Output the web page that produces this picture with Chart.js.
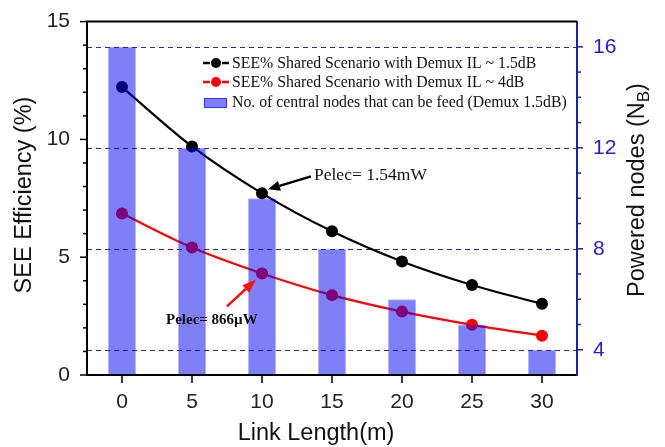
<!DOCTYPE html>
<html><head><meta charset="utf-8">
<script src="https://cdn.jsdelivr.net/npm/chart.js@4"></script>
<style>html,body{margin:0;padding:0;background:#fff;}#wrap{width:665px;height:447px;}</style>
</head><body><div id="wrap"><canvas id="c" width="665" height="447"></canvas></div>
<script>
// ---- data ----
const linkLength = ['0', '5', '10', '15', '20', '25', '30'];
const seeDemux15 = [12.22, 9.70, 7.71, 6.10, 4.82, 3.82, 3.02];
const seeDemux4 = [6.85, 5.41, 4.31, 3.39, 2.69, 2.13, 1.67];
const poweredNodes = [16, 12, 10, 8, 6, 5, 4];
const leftTicks = [0, 5, 10, 15];
const rightTicks = [4, 8, 12, 16];
const xTitle = 'Link Length(m)';
const yTitle = 'SEE Efficiency (%)';
const y1Title = 'Powered nodes (N';
const y1Sub = 'B';
const y1TitleEnd = ')';
const legendLabels = [
  'SEE% Shared Scenario with Demux IL ~ 1.5dB',
  'SEE% Shared Scenario with Demux IL ~ 4dB',
  'No. of central nodes that can be feed (Demux 1.5dB)'
];
const note15 = 'Pelec= 1.54mW';
const note4 = 'Pelec= 866\u00b5W';

const SANS = "'Liberation Sans', Arial, sans-serif";
const SERIF = "'Liberation Serif', 'Times New Roman', serif";
const BAR_FILL = 'rgba(0,0,240,0.5)';
const AXIS_BLUE = '#1e1ea6';
const LABEL_BLUE = '#2222cc';

function arrow(ctx, x0, y0, x1, y1, color, lw, hl, hw) {
  const ang = Math.atan2(y1 - y0, x1 - x0);
  const bx = x1 - hl * Math.cos(ang), by = y1 - hl * Math.sin(ang);
  ctx.save();
  ctx.strokeStyle = color; ctx.fillStyle = color; ctx.lineWidth = lw;
  ctx.beginPath(); ctx.moveTo(x0, y0); ctx.lineTo(bx, by); ctx.stroke();
  ctx.beginPath();
  ctx.moveTo(x1, y1);
  ctx.lineTo(bx + hw / 2 * Math.sin(ang), by - hw / 2 * Math.cos(ang));
  ctx.lineTo(bx - hw / 2 * Math.sin(ang), by + hw / 2 * Math.cos(ang));
  ctx.closePath(); ctx.fill();
  ctx.restore();
}

const decor = {
  id: 'decor',
  beforeDatasetsDraw(chart) {
    const { ctx, chartArea: a, scales } = chart;
    const y1 = scales.y1;
    ctx.save();
    ctx.strokeStyle = '#2a2aa0'; ctx.lineWidth = 1.2; ctx.setLineDash([5, 4]);
    rightTicks.forEach(v => {
      const py = Math.round(y1.getPixelForValue(v)) + 0.5;
      ctx.beginPath(); ctx.moveTo(a.left, py); ctx.lineTo(a.right, py); ctx.stroke();
    });
    ctx.restore();
  },
  afterDraw(chart) {
    const { ctx, chartArea: a, scales } = chart;
    const { x, y, y1 } = scales;
    ctx.save();
    // top frame
    ctx.strokeStyle = '#000'; ctx.lineWidth = 2;
    ctx.beginPath(); ctx.moveTo(a.left - 1, a.top); ctx.lineTo(a.right, a.top); ctx.stroke();
    // left ticks
    ctx.lineWidth = 1.5;
    for (let v = 0; v <= 15; v++) {
      const py = y.getPixelForValue(v);
      const len = v % 5 === 0 ? 7 : 4;
      ctx.beginPath(); ctx.moveTo(a.left, py); ctx.lineTo(a.left - len, py); ctx.stroke();
    }
    // x ticks
    linkLength.forEach((l, i) => {
      const px = x.getPixelForValue(i);
      ctx.beginPath(); ctx.moveTo(px, a.bottom); ctx.lineTo(px, a.bottom + 8); ctx.stroke();
    });
    // right ticks
    ctx.strokeStyle = AXIS_BLUE;
    for (let v = 4; v <= 16; v++) {
      const py = y1.getPixelForValue(v);
      const len = v % 4 === 0 ? 6 : 4;
      ctx.beginPath(); ctx.moveTo(a.right, py); ctx.lineTo(a.right + len, py); ctx.stroke();
    }
    // axis titles
    ctx.fillStyle = '#111';
    ctx.font = '23.5px ' + SANS;
    ctx.textAlign = 'center'; ctx.textBaseline = 'alphabetic';
    ctx.fillText(xTitle, 316, 440);
    ctx.save();
    ctx.translate(31, 195); ctx.rotate(-Math.PI / 2);
    ctx.fillText(yTitle, 0, 0);
    ctx.restore();
    ctx.save();
    ctx.translate(644, 190); ctx.rotate(-Math.PI / 2);
    ctx.textAlign = 'left';
    const f1 = '23.5px ' + SANS, f2 = '17px ' + SANS;
    ctx.font = f1; const w1 = ctx.measureText(y1Title).width; const w3 = ctx.measureText(y1TitleEnd).width;
    ctx.font = f2; const w2 = ctx.measureText(y1Sub).width;
    let sx = -(w1 + w2 + w3) / 2;
    ctx.font = f1; ctx.fillText(y1Title, sx, 0); sx += w1;
    ctx.font = f2; ctx.fillText(y1Sub, sx, 5); sx += w2;
    ctx.font = f1; ctx.fillText(y1TitleEnd, sx, 0);
    ctx.restore();
    // legend
    const lx = 203, rows = [63, 82, 102];
    const cols = ['#000', '#ff0000'];
    ctx.font = '15.8px ' + SERIF; ctx.textAlign = 'left'; ctx.textBaseline = 'middle';
    for (let i = 0; i < 2; i++) {
      ctx.strokeStyle = cols[i]; ctx.fillStyle = cols[i]; ctx.lineWidth = 2.5;
      ctx.beginPath(); ctx.moveTo(lx, rows[i]); ctx.lineTo(lx + 7, rows[i]); ctx.stroke();
      ctx.beginPath(); ctx.moveTo(lx + 19, rows[i]); ctx.lineTo(lx + 26, rows[i]); ctx.stroke();
      ctx.beginPath(); ctx.arc(lx + 13, rows[i], 5, 0, Math.PI * 2); ctx.fill();
    }
    ctx.fillStyle = BAR_FILL; ctx.fillRect(lx + 1, rows[2] - 4, 23, 10);
    ctx.strokeStyle = 'rgba(40,40,200,0.8)'; ctx.lineWidth = 1; ctx.strokeRect(lx + 1.5, rows[2] - 3.5, 22, 9);
    ctx.fillStyle = '#111';
    legendLabels.forEach((t, i) => ctx.fillText(t, lx + 29, rows[i] + 1));
    // annotations anchored on the 10 m points
    const pB = chart.getDatasetMeta(1).data[2];
    const pR = chart.getDatasetMeta(2).data[2];
    arrow(ctx, pB.x + 49, pB.y - 17, pB.x + 6, pB.y - 4, '#000', 2.5, 12, 10);
    ctx.fillStyle = '#111'; ctx.textBaseline = 'alphabetic';
    ctx.font = '17.5px ' + SERIF;
    ctx.fillText(note15, pB.x + 52, pB.y - 13);
    arrow(ctx, pR.x - 35, pR.y + 33, pR.x - 6, pR.y + 6, '#ff1010', 2.5, 14, 10);
    ctx.font = 'bold 15px ' + SERIF;
    ctx.fillText(note4, pR.x - 96, pR.y + 51);
    ctx.restore();
  }
};

new Chart(document.getElementById('c'), {
  type: 'bar',
  data: {
    labels: linkLength,
    datasets: [
      {
        type: 'bar', label: legendLabels[2], data: poweredNodes, yAxisID: 'y1',
        backgroundColor: BAR_FILL, borderColor: 'rgba(40,40,220,0.35)', borderWidth: 1,
        barPercentage: 0.4, categoryPercentage: 1.0, order: 0
      },
      {
        type: 'line', label: legendLabels[0], data: seeDemux15, yAxisID: 'y',
        borderColor: '#000', borderWidth: 2.2, pointRadius: 6, pointBackgroundColor: '#000',
        pointBorderWidth: 0, cubicInterpolationMode: 'monotone', order: 1
      },
      {
        type: 'line', label: legendLabels[1], data: seeDemux4, yAxisID: 'y',
        borderColor: '#ff0000', borderWidth: 2.2, pointRadius: 6, pointBackgroundColor: '#ff0000',
        pointBorderWidth: 0, cubicInterpolationMode: 'monotone', order: 2
      }
    ]
  },
  options: {
    responsive: false, animation: false, devicePixelRatio: 1, events: [],
    layout: { padding: { top: 17, left: 0, right: 0, bottom: 0 } },
    plugins: { legend: { display: false }, tooltip: { enabled: false } },
    scales: {
      x: {
        type: 'category', offset: true,
        grid: { display: false },
        border: { color: '#000', width: 2, z: 1 },
        ticks: { color: '#222', font: { family: SANS, size: 21 }, padding: 7, maxRotation: 0, autoSkip: false },
        afterFit(s) { s.height = 72; }
      },
      y: {
        position: 'left', min: 0, max: 15,
        grid: { display: false },
        border: { color: '#000', width: 2, z: 1 },
        ticks: { color: '#222', font: { family: SANS, size: 21 }, padding: 9 },
        afterBuildTicks(s) { s.ticks = leftTicks.map(v => ({ value: v })); },
        afterFit(s) { s.width = 87; }
      },
      y1: {
        position: 'right', min: 3, max: 17,
        grid: { display: false },
        border: { color: AXIS_BLUE, width: 2, z: 1 },
        ticks: { color: LABEL_BLUE, font: { family: SANS, size: 21 }, padding: 8 },
        afterBuildTicks(s) { s.ticks = rightTicks.map(v => ({ value: v })); },
        afterFit(s) { s.width = 88; }
      }
    }
  },
  plugins: [decor]
});
</script>
</body></html>
